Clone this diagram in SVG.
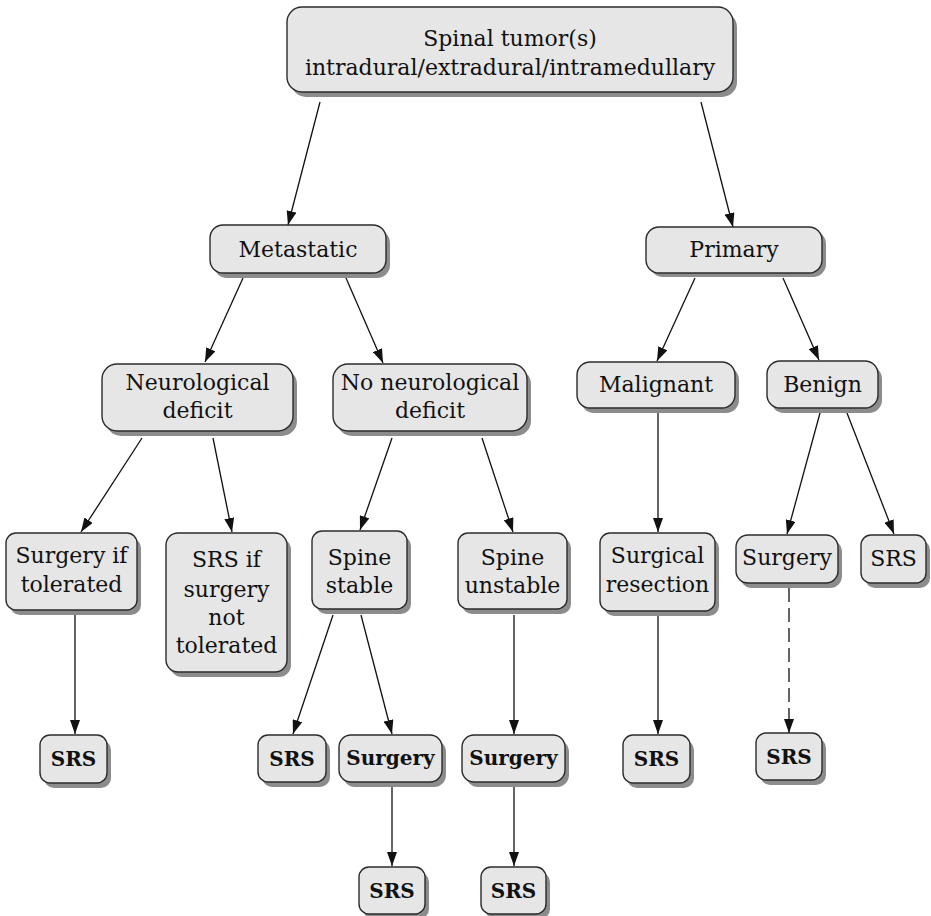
<svg xmlns="http://www.w3.org/2000/svg" width="931" height="916" viewBox="0 0 931 916">
  <style>
    .sh { fill: #8c8c8c; }
    .box { fill: #e6e6e6; stroke: #2b2b2b; stroke-width: 1.4; }
    text { font-family: "DejaVu Serif", "Liberation Serif", serif; font-size: 22px; fill: #111; text-anchor: middle; }
    text.b { font-weight: bold; font-size: 20px; }
    .edge { fill: none; stroke: #111; stroke-width: 1.3; marker-end: url(#arrow); }
    .dash { stroke-dasharray: 14 6; }
  </style>
  <defs>
    <marker id="arrow" markerUnits="userSpaceOnUse" markerWidth="14" markerHeight="10" refX="14" refY="5" orient="auto">
      <path d="M0,0 L14,5 L0,10 z" fill="#111"/>
    </marker>
  </defs>
  <rect width="931" height="916" fill="#fff"/>

  <!-- connectors -->
  <g id="edges">
    <line class="edge" x1="320" y1="102" x2="288" y2="225"/>
    <line class="edge" x1="701" y1="102" x2="733" y2="227"/>
    <line class="edge" x1="243" y1="278" x2="205" y2="362"/>
    <line class="edge" x1="346" y1="278" x2="383" y2="363"/>
    <line class="edge" x1="695" y1="278" x2="657" y2="361"/>
    <line class="edge" x1="783" y1="278" x2="819" y2="360"/>
    <line class="edge" x1="142" y1="438" x2="81" y2="532"/>
    <line class="edge" x1="213" y1="438" x2="232" y2="532"/>
    <line class="edge" x1="392" y1="438" x2="360" y2="530"/>
    <line class="edge" x1="482" y1="438" x2="513" y2="532"/>
    <line class="edge" x1="658" y1="413" x2="658" y2="532"/>
    <line class="edge" x1="820" y1="413" x2="787" y2="534"/>
    <line class="edge" x1="847" y1="413" x2="894" y2="534"/>
    <line class="edge" x1="75" y1="615" x2="75" y2="734"/>
    <line class="edge" x1="333" y1="615" x2="293" y2="734"/>
    <line class="edge" x1="361" y1="615" x2="392" y2="734"/>
    <line class="edge" x1="514" y1="615" x2="514" y2="734"/>
    <line class="edge" x1="658" y1="616" x2="658" y2="734"/>
    <line class="edge dash" x1="789" y1="588" x2="789" y2="733"/>
    <line class="edge" x1="392" y1="787" x2="392" y2="866"/>
    <line class="edge" x1="514" y1="787" x2="514" y2="866"/>
  </g>

  <!-- nodes -->
  <g id="n-root">
    <rect class="sh" x="291" y="12" width="446" height="85" rx="15"/>
    <rect class="box" x="287" y="7" width="446" height="85" rx="15"/>
    <text x="510" y="46">Spinal tumor(s)</text>
    <text x="510" y="75">intradural/extradural/intramedullary</text>
  </g>
  <g id="n-metastatic">
    <rect class="sh" x="214" y="230" width="176" height="48" rx="13"/>
    <rect class="box" x="210" y="225" width="176" height="48" rx="13"/>
    <text x="298" y="257">Metastatic</text>
  </g>
  <g id="n-primary">
    <rect class="sh" x="650" y="231" width="176" height="46" rx="13"/>
    <rect class="box" x="646" y="227" width="176" height="46" rx="13"/>
    <text x="734" y="257">Primary</text>
  </g>
  <g id="n-neuro">
    <rect class="sh" x="106" y="369" width="191" height="67" rx="15"/>
    <rect class="box" x="102" y="364" width="191" height="67" rx="15"/>
    <text x="197.5" y="390">Neurological</text>
    <text x="197.5" y="418">deficit</text>
  </g>
  <g id="n-noneuro">
    <rect class="sh" x="337" y="369" width="194" height="67" rx="15"/>
    <rect class="box" x="333" y="364" width="194" height="67" rx="15"/>
    <text x="430" y="390">No neurological</text>
    <text x="430" y="418">deficit</text>
  </g>
  <g id="n-malignant">
    <rect class="sh" x="581" y="367" width="158" height="46" rx="13"/>
    <rect class="box" x="577" y="362" width="158" height="46" rx="13"/>
    <text x="656" y="392">Malignant</text>
  </g>
  <g id="n-benign">
    <rect class="sh" x="771" y="366" width="111" height="47" rx="13"/>
    <rect class="box" x="767" y="361" width="111" height="47" rx="13"/>
    <text x="822.5" y="392">Benign</text>
  </g>
  <g id="n-surg-tol">
    <rect class="sh" x="10" y="538" width="131" height="77" rx="10"/>
    <rect class="box" x="6" y="533" width="131" height="77" rx="10"/>
    <text x="71.5" y="563">Surgery if</text>
    <text x="71.5" y="592">tolerated</text>
  </g>
  <g id="n-srs-nottol">
    <rect class="sh" x="170" y="538" width="121" height="139" rx="12"/>
    <rect class="box" x="166" y="533" width="121" height="139" rx="12"/>
    <text x="226.5" y="567">SRS if</text>
    <text x="226.5" y="597">surgery</text>
    <text x="226.5" y="625">not</text>
    <text x="226.5" y="653">tolerated</text>
  </g>
  <g id="n-stable">
    <rect class="sh" x="316" y="536" width="95" height="78" rx="10"/>
    <rect class="box" x="312" y="531" width="95" height="78" rx="10"/>
    <text x="359.5" y="565">Spine</text>
    <text x="359.5" y="593">stable</text>
  </g>
  <g id="n-unstable">
    <rect class="sh" x="462" y="538" width="109" height="76" rx="10"/>
    <rect class="box" x="458" y="533" width="109" height="76" rx="10"/>
    <text x="512.5" y="565">Spine</text>
    <text x="512.5" y="593">unstable</text>
  </g>
  <g id="n-resection">
    <rect class="sh" x="604" y="538" width="115" height="78" rx="10"/>
    <rect class="box" x="600" y="533" width="115" height="78" rx="10"/>
    <text x="657.5" y="563">Surgical</text>
    <text x="657.5" y="592">resection</text>
  </g>
  <g id="n-benign-surgery">
    <rect class="sh" x="740" y="540" width="102" height="48" rx="12"/>
    <rect class="box" x="736" y="535" width="102" height="48" rx="12"/>
    <text x="787" y="565">Surgery</text>
  </g>
  <g id="n-benign-srs">
    <rect class="sh" x="865" y="540" width="65" height="48" rx="10"/>
    <rect class="box" x="861" y="535" width="65" height="48" rx="10"/>
    <text x="893.5" y="566">SRS</text>
  </g>

  <g id="n-srs-1">
    <rect class="sh" x="44" y="740" width="67" height="48" rx="10"/>
    <rect class="box" x="40" y="735" width="67" height="48" rx="10"/>
    <text class="b" x="73.5" y="766">SRS</text>
  </g>
  <g id="n-srs-2">
    <rect class="sh" x="262" y="740" width="68" height="47" rx="10"/>
    <rect class="box" x="258" y="735" width="68" height="47" rx="10"/>
    <text class="b" x="292" y="766">SRS</text>
  </g>
  <g id="n-surgery-1">
    <rect class="sh" x="343" y="740" width="103" height="47" rx="12"/>
    <rect class="box" x="339" y="735" width="103" height="47" rx="12"/>
    <text class="b" x="390.5" y="765">Surgery</text>
  </g>
  <g id="n-surgery-2">
    <rect class="sh" x="466" y="740" width="103" height="47" rx="12"/>
    <rect class="box" x="462" y="735" width="103" height="47" rx="12"/>
    <text class="b" x="513.5" y="765">Surgery</text>
  </g>
  <g id="n-srs-3">
    <rect class="sh" x="627" y="740" width="67" height="48" rx="10"/>
    <rect class="box" x="623" y="735" width="67" height="48" rx="10"/>
    <text class="b" x="656.5" y="766">SRS</text>
  </g>
  <g id="n-srs-4">
    <rect class="sh" x="760" y="738" width="66" height="47" rx="10"/>
    <rect class="box" x="756" y="733" width="66" height="47" rx="10"/>
    <text class="b" x="789" y="764">SRS</text>
  </g>
  <g id="n-srs-5">
    <rect class="sh" x="363" y="872" width="66" height="47" rx="10"/>
    <rect class="box" x="359" y="867" width="66" height="47" rx="10"/>
    <text class="b" x="392" y="898">SRS</text>
  </g>
  <g id="n-srs-6">
    <rect class="sh" x="485" y="872" width="65" height="47" rx="10"/>
    <rect class="box" x="481" y="867" width="65" height="47" rx="10"/>
    <text class="b" x="513.5" y="898">SRS</text>
  </g>
</svg>
